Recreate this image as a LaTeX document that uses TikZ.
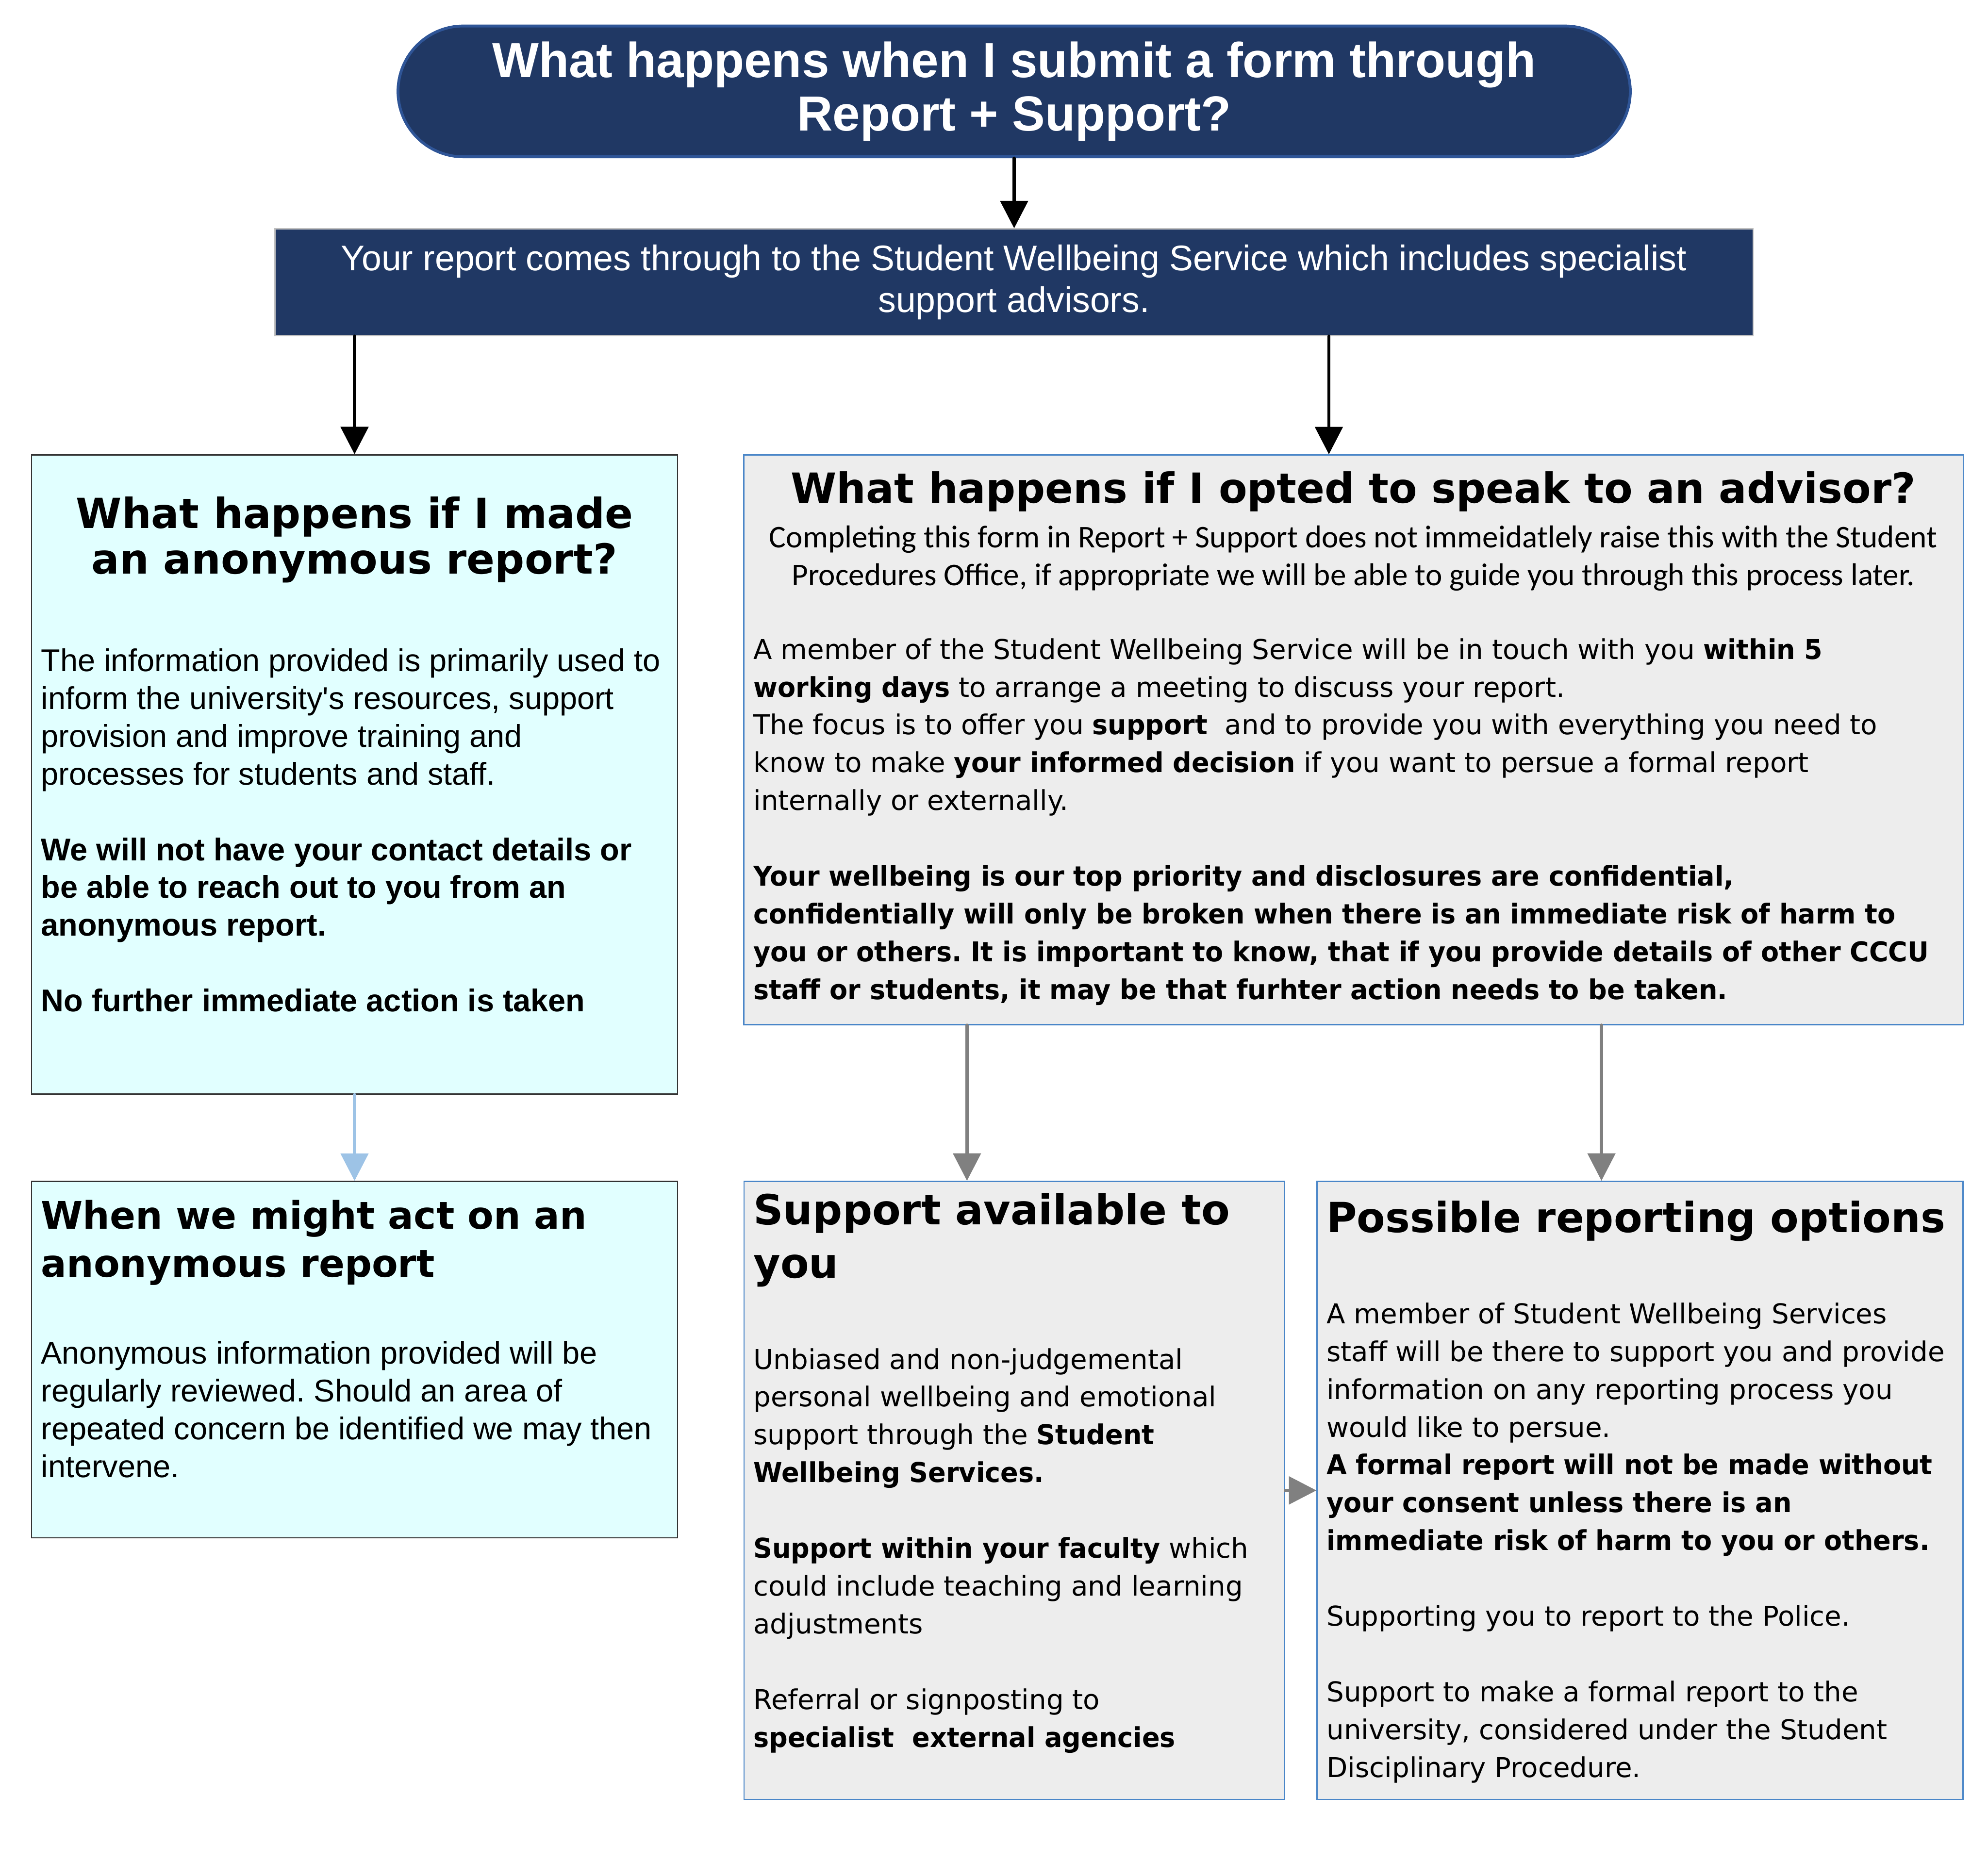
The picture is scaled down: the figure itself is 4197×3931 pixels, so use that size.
\documentclass[tikz,border=0pt]{standalone}
\usepackage{fontspec}
\setmainfont{Liberation Sans}
\newfontfamily\headfont{DejaVu Sans}
\newfontfamily\notefont{Carlito}
\newfontfamily\advfont{DejaVu Sans}[BoldFeatures={FakeStretch=0.96}]
\usepackage{xcolor}
\usetikzlibrary{positioning, arrows.meta}
\frenchspacing

\definecolor{navy}{HTML}{203864}
\definecolor{navyline}{HTML}{2F5597}
\definecolor{paleblue}{HTML}{E1FFFF}
\definecolor{palegrey}{HTML}{EDEDED}
\definecolor{boxblue}{HTML}{4A86C8}
\definecolor{arrowblue}{HTML}{9DC3E6}
\definecolor{arrowgrey}{HTML}{808080}

\begin{document}
\begin{tikzpicture}[x=0.01cm, y=0.01cm,
    cyanbox/.style={rectangle, draw=black!80, fill=paleblue, line width=0.8pt, inner sep=0pt},
    greybox/.style={rectangle, draw=boxblue, fill=palegrey, line width=0.8pt, inner sep=0pt},
    heading/.style={font=\headfont\bfseries\fontsize{24.9}{27.4}\selectfont, inner sep=0pt},
    bigheading/.style={font=\headfont\bfseries\fontsize{24.9}{32}\selectfont, inner sep=0pt, anchor=west, align=left},
    plain/.style={font=\fontsize{18.9}{22.7}\selectfont, align=left, inner sep=0pt, anchor=north west},
    advplain/.style={font=\advfont\fontsize{16.4}{22.7}\selectfont, align=left, inner sep=0pt, anchor=north west},
    arr/.style={-{Triangle[length=5.8mm, width=5.8mm]}, line width=2pt, line cap=round},
]
\useasboundingbox (0,0) rectangle (4197,-3931);

% top of the chart
\node (title) [rectangle, rounded corners=1.38cm, fill=navy, draw=navyline, line width=1.7pt,
  minimum width=26.0cm, minimum height=2.76cm, text=white, align=center,
  font=\bfseries\fontsize{29.6}{32}\selectfont] at (2141,-193)
  {What happens when I submit a form through\\Report + Support?};
\node (service) [rectangle, fill=navy, draw=black!25, line width=0.8pt,
  minimum width=31.19cm, minimum height=2.25cm, text=white, align=center,
  font=\fontsize{21.4}{25}\selectfont] at (2140.5,-596)
  {Your report comes through to the Student Wellbeing Service which includes specialist\\support advisors.};

% the boxes
\node (anon) [cyanbox, minimum width=13.63cm, minimum height=13.49cm] at (748.5,-1635.5) {};
\node (act) [cyanbox, minimum width=13.63cm, minimum height=7.52cm] at (748.5,-2871) {};
\node (advisor) [greybox, minimum width=25.73cm, minimum height=12.02cm] at (2857.5,-1562) {};
\node (support) [greybox, minimum width=11.41cm, minimum height=13.04cm] at (2141.5,-3147) {};
\node (options) [greybox, minimum width=13.63cm, minimum height=13.04cm] at (3462.5,-3147) {};

% anonymous side
\node (anonhead) [heading, align=center] at (748.5,-1140) {What happens if I made\\an anonymous report?};
\node (anontext) [plain] at (86,-1361) {\strut The information provided is primarily used to\\
  inform the university\textquotesingle s resources, support\\
  provision and improve training and\\
  processes for students and staff.\\[22.7pt]
  \textbf{We will not have your contact details or}\\
  \textbf{be able to reach out to you from an}\\
  \textbf{anonymous report.}\\[22.7pt]
  \textbf{No further immediate action is taken}};
\node (acthead) [heading, anchor=west, align=left, font=\headfont\bfseries\fontsize{22.8}{29}\selectfont] at (86,-2624)
  {When we might act on an\\anonymous report};
\node (acttext) [plain] at (86,-2823) {\strut Anonymous information provided will be\\
  regularly reviewed. Should an area of\\
  repeated concern be identified we may then\\
  intervene.};

% advisor side
\node (advhead) [heading] at (2857,-1038) {What happens if I opted to speak to an advisor?};
\node (advnote) [align=center, inner sep=0pt, anchor=north, font=\notefont\fontsize{19}{22.8}\selectfont] at (2857,-1099)
  {\strut Completing this form in Report + Support does not immeidatlely raise this with the Student\\
  Procedures Office, if appropriate we will be able to guide you through this process later.};
\node (advtext) [advplain] at (1590,-1335) {\strut A member of the Student Wellbeing Service will be in touch with you \textbf{within 5}\\
  \textbf{working days} to arrange a meeting to discuss your report.\\
  The focus is to offer you \textbf{support}\ \ and to provide you with everything you need to\\
  know to make \textbf{your informed decision} if you want to persue a formal report\\
  internally or externally.\\[22.7pt]
  \textbf{Your wellbeing is our top priority and disclosures are confidential,}\\
  \textbf{confidentially will only be broken when there is an immediate risk of harm to}\\
  \textbf{you or others. It is important to know, that if you provide details of other CCCU}\\
  \textbf{staff or students, it may be that furhter action needs to be taken.}};

\node (supphead) [bigheading] at (1590,-2618) {Support available to\\you};
\node (supptext) [advplain] at (1590,-2834) {\strut Unbiased and non-judgemental\\
  personal wellbeing and emotional\\
  support through the \textbf{Student}\\
  \textbf{Wellbeing Services.}\\[22.7pt]
  \textbf{Support within your faculty} which\\
  could include teaching and learning\\
  adjustments\\[22.7pt]
  Referral or signposting to\\
  \textbf{specialist\ \ external agencies}};

\node (opthead) [bigheading] at (2800,-2578) {Possible reporting options};
\node (opttext) [advplain] at (2800,-2738) {\strut A member of Student Wellbeing Services\\
  staff will be there to support you and provide\\
  information on any reporting process you\\
  would like to persue.\\
  \textbf{A formal report will not be made without}\\
  \textbf{your consent unless there is an}\\
  \textbf{immediate risk of harm to you or others.}\\[22.7pt]
  Supporting you to report to the Police.\\[22.7pt]
  Support to make a formal report to the\\
  university, considered under the Student\\
  Disciplinary Procedure.};

% connectors
\coordinate (advin) at ([xshift=-5.2mm]advisor.north);
\coordinate (suppin) at ([xshift=-1cm]support.north);
\coordinate (optin) at ([xshift=-8.15mm]options.north);

\draw[arr] (title.south) -- (title.south |- service.north);
\draw[arr] (anon.north |- service.south) -- (anon.north);
\draw[arr] (advin |- service.south) -- (advin);
\draw[arr, arrowblue] (anon) -- (act);
\draw[arr, arrowgrey] (suppin |- advisor.south) -- (suppin);
\draw[arr, arrowgrey] (optin |- advisor.south) -- (optin);
\draw[arr, arrowgrey] (support) -- (options);
\end{tikzpicture}
\end{document}
